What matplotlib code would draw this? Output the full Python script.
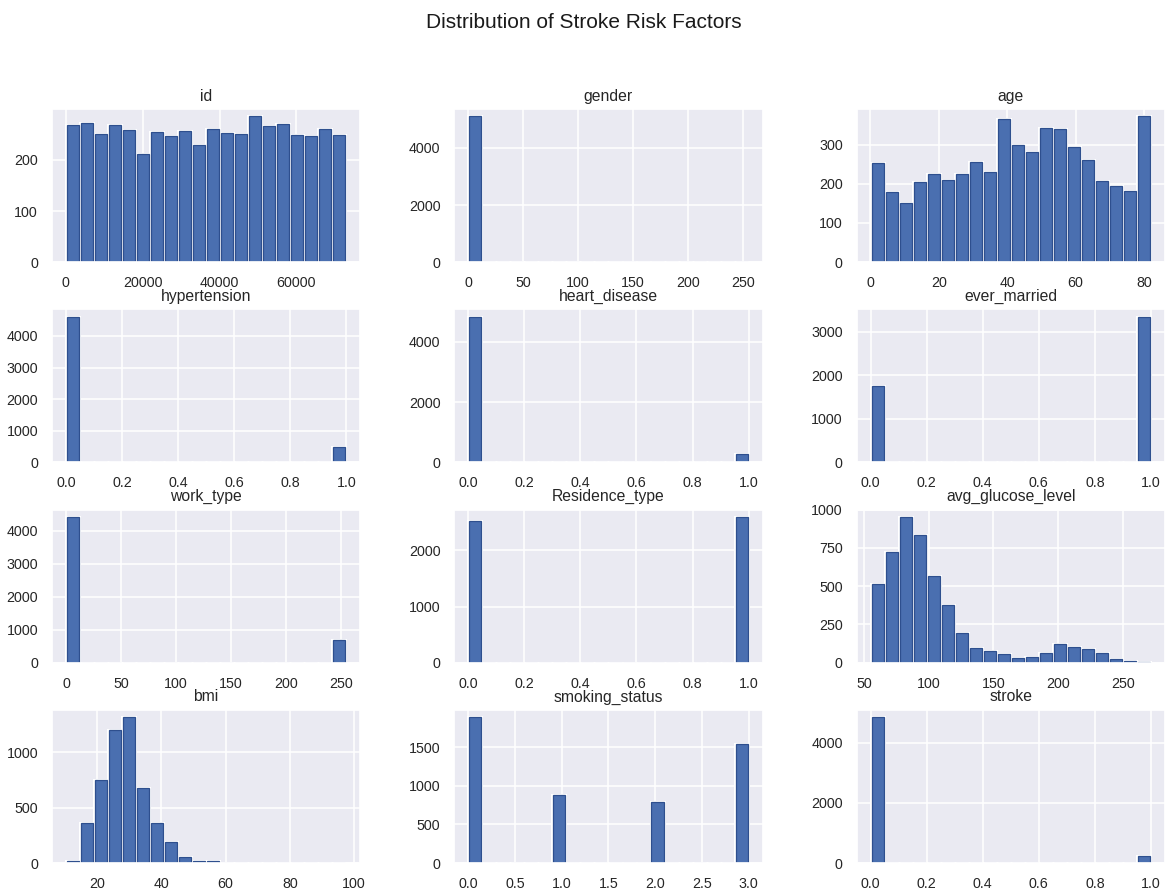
import numpy as np
import matplotlib
matplotlib.use("Agg")
import matplotlib.pyplot as plt
import seaborn as sns

sns.set_theme(style="darkgrid")
plt.rcParams["font.family"] = ["Liberation Sans", "DejaVu Sans"]

# Column names in panel order
columns = ["id", "gender", "age",
           "hypertension", "heart_disease", "ever_married",
           "work_type", "Residence_type", "avg_glucose_level",
           "bmi", "smoking_status", "stroke"]

# Value range (min, max) of each column; each histogram uses 20 equal bins
ranges = {
    "id": (67, 72940),
    "gender": (0, 255),
    "age": (0.08, 82),
    "hypertension": (0, 1),
    "heart_disease": (0, 1),
    "ever_married": (0, 1),
    "work_type": (0, 255),
    "Residence_type": (0, 1),
    "avg_glucose_level": (55.12, 271.74),
    "bmi": (10.3, 97.6),
    "smoking_status": (0, 3),
    "stroke": (0, 1),
}

# Bin counts (20 bins per column)
id_counts = [268, 272, 250, 268, 258, 212, 255, 246, 256, 229,
             261, 252, 250, 285, 266, 270, 248, 246, 261, 248]
gender_counts = [5109] + [0] * 18 + [1]
age_counts = [252, 178, 152, 204, 226, 210, 225, 255, 229, 365,
              300, 280, 343, 340, 295, 261, 207, 195, 182, 372]
hypertension_counts = [4612] + [0] * 18 + [498]
heart_disease_counts = [4834] + [0] * 18 + [276]
ever_married_counts = [1757] + [0] * 18 + [3353]
work_type_counts = [4423] + [0] * 18 + [687]
residence_counts = [2514] + [0] * 18 + [2596]
glucose_counts = [515, 724, 952, 831, 568, 375, 193, 96, 77, 55,
                  33, 39, 66, 125, 105, 90, 64, 26, 9, 4]
bmi_counts = [21, 358, 752, 1203, 1318, 682, 358, 188, 55, 18,
              18, 0, 3, 1, 0, 1, 0, 0, 0, 1]
smoking_counts = [1892, 0, 0, 0, 0, 0, 885, 0, 0, 0,
                  0, 0, 0, 789, 0, 0, 0, 0, 0, 1544]
stroke_counts = [4861] + [0] * 18 + [249]

counts = {
    "id": id_counts,
    "gender": gender_counts,
    "age": age_counts,
    "hypertension": hypertension_counts,
    "heart_disease": heart_disease_counts,
    "ever_married": ever_married_counts,
    "work_type": work_type_counts,
    "Residence_type": residence_counts,
    "avg_glucose_level": glucose_counts,
    "bmi": bmi_counts,
    "smoking_status": smoking_counts,
    "stroke": stroke_counts,
}

# Tick labels per panel
x_ticks = {
    "id": [0, 20000, 40000, 60000],
    "gender": [0, 50, 100, 150, 200, 250],
    "age": [0, 20, 40, 60, 80],
    "hypertension": [0.0, 0.2, 0.4, 0.6, 0.8, 1.0],
    "heart_disease": [0.0, 0.2, 0.4, 0.6, 0.8, 1.0],
    "ever_married": [0.0, 0.2, 0.4, 0.6, 0.8, 1.0],
    "work_type": [0, 50, 100, 150, 200, 250],
    "Residence_type": [0.0, 0.2, 0.4, 0.6, 0.8, 1.0],
    "avg_glucose_level": [50, 100, 150, 200, 250],
    "bmi": [20, 40, 60, 80, 100],
    "smoking_status": [0.0, 0.5, 1.0, 1.5, 2.0, 2.5, 3.0],
    "stroke": [0.0, 0.2, 0.4, 0.6, 0.8, 1.0],
}
y_ticks = {
    "id": [0, 100, 200],
    "gender": [0, 2000, 4000],
    "age": [0, 100, 200, 300],
    "hypertension": [0, 1000, 2000, 3000, 4000],
    "heart_disease": [0, 2000, 4000],
    "ever_married": [0, 1000, 2000, 3000],
    "work_type": [0, 1000, 2000, 3000, 4000],
    "Residence_type": [0, 1000, 2000],
    "avg_glucose_level": [0, 250, 500, 750, 1000],
    "bmi": [0, 500, 1000],
    "smoking_status": [0, 500, 1000, 1500],
    "stroke": [0, 2000, 4000],
}

fig, axes = plt.subplots(4, 3, figsize=(11.68, 8.92), dpi=100)
fig.subplots_adjust(left=0.0445, right=0.9974, top=0.8778, bottom=0.0325,
                    wspace=0.305, hspace=0.307)

bar_color = "#4A6FB0"
edge_dark = "#2E4F8E"

for ax, col in zip(axes.flat, columns):
    lo, hi = ranges[col]
    edges = np.linspace(lo, hi, 21)
    centers = (edges[:-1] + edges[1:]) / 2
    w = counts[col]
    # white backing block under each bar, then the narrower outlined bar
    ax.hist(centers, bins=edges, weights=w, color="white",
            edgecolor="white", linewidth=1.5)
    ax.hist(centers, bins=edges, weights=w, color=bar_color,
            edgecolor=edge_dark, linewidth=0.9, rwidth=0.86)
    ax.set_xticks(x_ticks[col])
    ax.set_yticks(y_ticks[col])
    ax.tick_params(axis="both", labelsize=10.3, colors="0.15", pad=4)
    ax.set_title(col, fontsize=11.3, color="0.15", pad=6)
    ax.grid(True, color="white", linewidth=1.1)
    ax.set_axisbelow(True)

fig.suptitle("Distribution of Stroke Risk Factors", fontsize=15,
             color="0.1", y=0.985)

fig.savefig("out.png", dpi=100)
